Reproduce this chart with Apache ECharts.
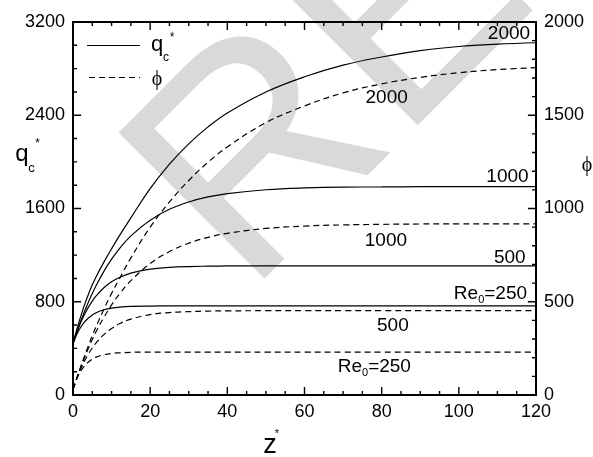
<!DOCTYPE html>
<html>
<head>
<meta charset="utf-8" />
<title>qc* and phi vs z*</title>
<script src="https://cdn.jsdelivr.net/npm/echarts/dist/echarts.min.js"></script>
<style>
  html, body { margin: 0; padding: 0; background: #fff; }
  #chart { width: 593px; height: 457px; }
</style>
</head>
<body>
<div id="chart"></div>
<script>
// z* sample points
var zStar = [0, 1, 2, 3, 4, 5, 6, 8, 10, 12, 15, 20, 25, 30, 35, 40, 50, 60, 70, 80, 90, 100, 110, 120];

// q_c* (left axis), solid lines
var qc250  = [440, 521, 581, 627, 661, 686, 706, 731, 745, 754, 760, 763, 764, 764, 764, 764, 764, 764, 764, 764, 764, 764, 764, 764];
var qc500  = [440, 538, 622, 693, 754, 806, 850, 920, 971, 1008, 1046, 1080, 1095, 1102, 1105, 1107, 1108, 1108, 1108, 1108, 1108, 1108, 1108, 1108];
var qc1000 = [440, 540, 633, 718, 798, 871, 939, 1061, 1165, 1254, 1365, 1500, 1593, 1656, 1699, 1728, 1761, 1777, 1784, 1785, 1787, 1788, 1788, 1788];
var qc2000 = [440, 565, 675, 775, 865, 945, 1015, 1140, 1255, 1365, 1520, 1770, 1980, 2155, 2300, 2420, 2600, 2730, 2830, 2900, 2955, 2990, 3010, 3022];

// phi (right axis), dashed lines
var phi250  = [30, 87, 127, 156, 177, 192, 203, 216, 223, 226, 229, 230, 230, 230, 230, 230, 230, 230, 230, 230, 230, 230, 230, 230];
var phi500  = [30, 89, 139, 182, 220, 252, 280, 324, 357, 382, 407, 431, 442, 447, 450, 451, 452, 452, 452, 452, 452, 452, 452, 452];
var phi1000 = [30, 91, 148, 201, 251, 297, 340, 416, 483, 541, 613, 705, 769, 814, 845, 867, 893, 906, 912, 915, 917, 918, 918, 918];
var phi2000 = [30, 92, 152, 210, 265, 318, 367, 460, 545, 622, 735, 900, 1035, 1150, 1248, 1330, 1460, 1550, 1620, 1668, 1703, 1728, 1745, 1755];

// axis ranges: major step, minor step, tick length (major, minor) in axis units
var xTicks = { min: 0, max: 120, step: 20, minor: 5, len: [2.1, 1.05] };
var qTicks = { min: 0, max: 3200, step: 800, minor: 200, len: [69, 35] };
var phiTicks = { min: 0, max: 2000, step: 500, minor: 100, len: [43, 22] };

var FONT = '"Liberation Sans", Arial, sans-serif';
var SERIF = '"Liberation Serif", "DejaVu Serif", serif';
var GAP = ['-', '-'];

function pairs(ys) {
  return zStar.map(function (x, i) { return [x, ys[i]]; });
}

function range(t) {
  var out = [];
  for (var v = t.min; v <= t.max; v += t.minor) out.push(v);
  return out;
}

function tickLen(t, v, other) {
  return (v - t.min) % t.step === 0 ? other.len[0] : other.len[1];
}

// curve label = text placed in data coordinates
function tag(text, x, y) {
  return {
    symbol: 'circle', symbolSize: 1,
    itemStyle: { color: 'rgba(0,0,0,0)' },
    label: {
      show: true, position: 'inside', color: '#000', fontSize: 19, fontFamily: FONT,
      formatter: function () {
        if (text.indexOf('Re') === 0) return '{a|Re}{b|0}{a|' + text.slice(3) + '}';
        return '{a|' + text + '}';
      },
      rich: {
        a: { fontSize: 19, color: '#000', fontFamily: FONT },
        b: { fontSize: 11, color: '#000', fontFamily: FONT, padding: [12, 0, 0, 0] }
      }
    },
    data: [{ coord: [x, y] }]
  };
}

function curve(ys, axis, dashed, mark) {
  return {
    type: 'line',
    data: pairs(ys),
    yAxisIndex: axis,
    showSymbol: false,
    symbol: 'none',
    smooth: 0.4,
    lineStyle: { color: '#000', width: 1.2, type: dashed ? [6, 4] : 'solid' },
    markPoint: mark
  };
}

// inside tick marks as short broken line pieces on the axes
function tickSeries(data, axis) {
  return {
    type: 'line', data: data, yAxisIndex: axis,
    showSymbol: false, symbol: 'none', connectNulls: false, clip: false, silent: true, z: 4,
    lineStyle: { color: '#000', width: 1.4, type: 'solid' }
  };
}

var xTickData = [];
range(xTicks).forEach(function (v) {
  var l = tickLen(xTicks, v, qTicks);
  xTickData.push([v, qTicks.min], [v, qTicks.min + l], GAP, [v, qTicks.max], [v, qTicks.max - l], GAP);
});
var qTickData = [];
range(qTicks).forEach(function (v) {
  qTickData.push([xTicks.min, v], [xTicks.min + tickLen(qTicks, v, xTicks), v], GAP);
});
var phiTickData = [];
range(phiTicks).forEach(function (v) {
  phiTickData.push([xTicks.max, v], [xTicks.max - tickLen(phiTicks, v, xTicks), v], GAP);
});

function axisStyle(pos, t, showLabel) {
  return {
    type: 'value',
    position: pos,
    min: t.min, max: t.max, interval: t.step,
    axisLine: { show: true, onZero: false, lineStyle: { color: '#000', width: 2 } },
    axisTick: { show: false },
    splitLine: { show: false },
    axisLabel: { show: showLabel, color: '#000', fontSize: 18, fontFamily: FONT,
                 formatter: function (v) { return String(v); } }
  };
}

function txt(s, x, y, font) {
  return { type: 'text', x: x, y: y, z: 5,
           style: { text: s, font: font, fill: '#000', textAlign: 'center', textVerticalAlign: 'middle' } };
}

var chart = echarts.init(document.getElementById('chart'));

chart.setOption({
  animation: false,
  grid: { left: 73, right: 57, top: 22, bottom: 62 },
  xAxis: [
    axisStyle('bottom', xTicks, true),
    axisStyle('top', xTicks, false)
  ],
  yAxis: [
    axisStyle('left', qTicks, true),
    axisStyle('right', phiTicks, true)
  ],
  series: [
    curve(qc2000, 0, false, tag('2000', 113, 3095)),
    curve(qc1000, 0, false, tag('1000', 112.6, 1874)),
    curve(qc500, 0, false, tag('500', 113.2, 1174)),
    curve(qc250, 0, false, tag('Re0=250', 108.2, 871)),
    curve(phi2000, 1, true, tag('2000', 81.3, 1592)),
    curve(phi1000, 1, true, tag('1000', 81.1, 827)),
    curve(phi500, 1, true, tag('500', 82.9, 371)),
    curve(phi250, 1, true, tag('Re0=250', 78.1, 152)),
    tickSeries(xTickData, 0),
    tickSeries(qTickData, 0),
    tickSeries(phiTickData, 1)
  ],
  graphic: {
    elements: [
      // watermark
      { type: 'text', x: 336, y: 90, rotation: Math.PI / 4, z: -10, silent: true,
        style: { text: 'RE', font: '300px "Liberation Sans", Arial', fill: '#d9d9d9',
                 textAlign: 'center', textVerticalAlign: 'middle' } },
      // legend
      { type: 'line', z: 5, shape: { x1: 87, y1: 45.5, x2: 140, y2: 45.5 }, style: { stroke: '#000', lineWidth: 1.2 } },
      { type: 'line', z: 5, shape: { x1: 89, y1: 77.5, x2: 140, y2: 77.5 }, style: { stroke: '#000', lineWidth: 1.2, lineDash: [6, 4] } },
      txt('q', 157, 45, '22px ' + FONT),
      txt('c', 166, 58, '12px ' + FONT),
      txt('*', 172, 38, '12px ' + FONT),
      txt('\u03D5', 157, 80, '20px ' + SERIF),
      // axis names
      txt('q', 22, 154, '24px ' + FONT),
      txt('c', 31.5, 168, '13px ' + FONT),
      txt('*', 37.5, 144, '12px ' + FONT),
      txt('\u03D5', 587, 166, '20px ' + SERIF),
      txt('z', 270, 446, '27px ' + FONT),
      txt('*', 277, 434, '11px ' + FONT)
    ]
  }
});
</script>
</body>
</html>
